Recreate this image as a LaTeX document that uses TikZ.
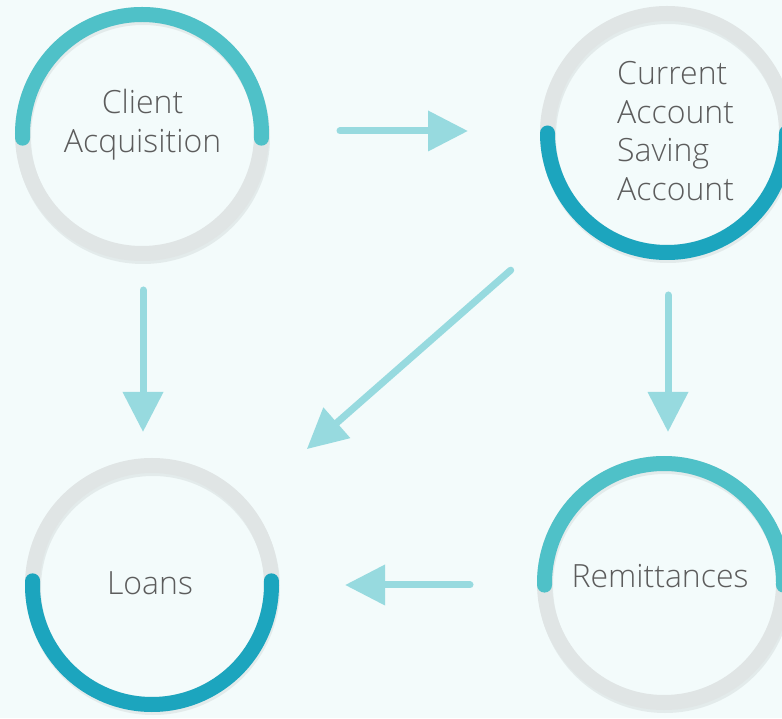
\documentclass[tikz,border=0pt]{standalone}
\usepackage{fontspec}
\IfFontExistsTF{Open Sans Light}
  {\setmainfont{Open Sans Light}\newcommand\labelsize{32}}
  {\setmainfont{Open Sans}\newcommand\labelsize{30.5}}
\usetikzlibrary{arrows.meta,calc}
\definecolor{bg}{HTML}{F3FBFB}
\definecolor{ringgrey}{HTML}{E0E5E5}
\definecolor{shadowgrey}{HTML}{C8CFCF}
\definecolor{lightteal}{HTML}{4FC1C8}
\definecolor{darkteal}{HTML}{1CA5BE}
\definecolor{arrowc}{HTML}{97DADF}
\definecolor{txt}{HTML}{5C5C5C}
\begin{document}
\begin{tikzpicture}[x=1pt,y=1pt,
  ring/.style={circle, draw=ringgrey, line width=15pt, minimum size=239pt, inner sep=0pt},
  ringshadow/.style={draw=shadowgrey, opacity=0.35, line width=15pt},
  lightarc/.style={draw=lightteal, line width=15pt, line cap=round},
  darkarc/.style={draw=darkteal, line width=15pt, line cap=round},
  label/.style={text=txt, font=\fontsize{\labelsize}{38.5}\selectfont, inner sep=0pt},
  arr/.style={draw=arrowc, line width=7pt, line cap=round, -{Triangle[length=40pt,width=39pt]}}
]
\fill[bg] (0,0) rectangle (782,718);
\useasboundingbox (0,0) rectangle (782,718);

\coordinate (p1) at (142,584);
\coordinate (p2) at (667,585);
\coordinate (p3) at (152,133);
\coordinate (p4) at (664,135);

% soft shadows
\foreach \p in {p1,p2,p3,p4}
  \draw[ringshadow] ($(\p)+(1,-3)$) circle[radius=119.5];

% rings
\node[ring] (c1) at (p1) {};
\node[ring] (c2) at (p2) {};
\node[ring] (c3) at (p3) {};
\node[ring] (c4) at (p4) {};

% coloured arcs
\draw[lightarc] ($(c1.center)+(-2:119.5)$) arc[start angle=-2, end angle=182, radius=119.5];
\draw[darkarc]  ($(c2.center)+(180:119.5)$) arc[start angle=180, end angle=360, radius=119.5];
\draw[darkarc]  ($(c3.center)+(178:119.5)$) arc[start angle=178, end angle=362, radius=119.5];
\draw[lightarc] ($(c4.center)+(-1:119.5)$) arc[start angle=-1, end angle=181, radius=119.5];

% labels
\node[label, align=center] (t1) at ($(c1.center)+(0.5,9.5)$) {Client\\Acquisition};
\node[label, align=left, anchor=west] (t2) at ($(c2.center)+(-50,2)$) {Current\\Account\\Saving\\Account};
\node[label, anchor=base] (t3) at ($(c3.center)+(-2,-9)$) {Loans};
\node[label, anchor=base] (t4) at ($(c4.center)+(-4,-5)$) {Remittances};

% connectors
\draw[arr] ($(c1.east)+(71,3)$) -- ($(c2.west)+(-72,2)$);
\draw[arr] ($(c1.south)+(1,-29)$) -- ($(c3.north)+(-9,26)$);
\draw[arr, shorten <=81pt, shorten >=79pt] (c2) -- (c3);
\draw[arr] ($(c2.south)+(1,-35)$) -- ($(c4.north)+(4,24)$);
\draw[arr] ($(c4.west)+(-67,-2)$) -- ($(c3.east)+(66,0)$);
\end{tikzpicture}
\end{document}
